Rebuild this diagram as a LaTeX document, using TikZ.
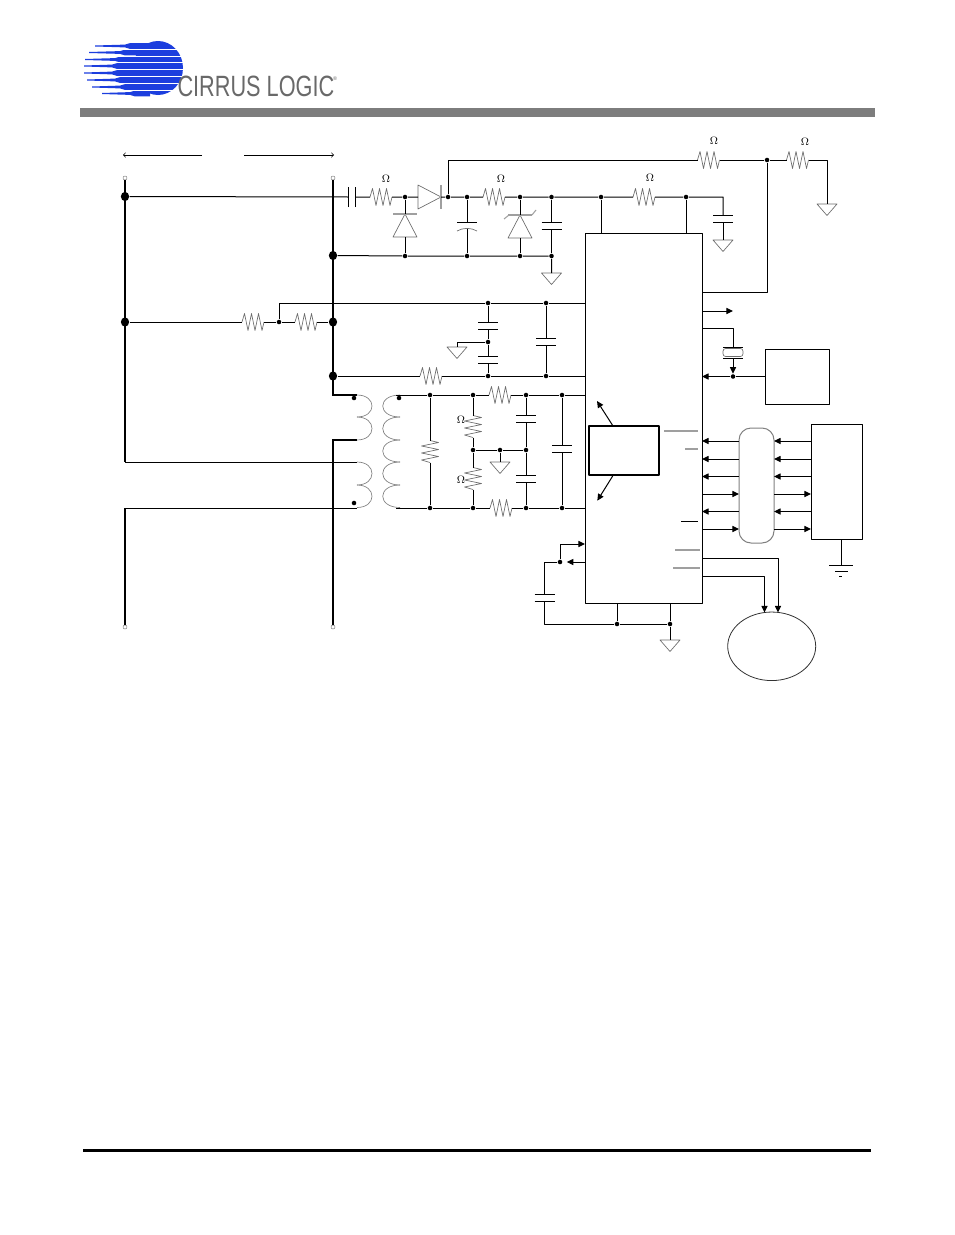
\documentclass[tikz,border=0pt]{standalone}
\usepackage{fontspec}
\newfontfamily\logofont{Liberation Sans}
\usetikzlibrary{arrows.meta,shapes.geometric}
\definecolor{logoblue}{RGB}{28,62,222}
\definecolor{logogray}{RGB}{105,105,105}
\begin{document}
\begin{tikzpicture}[x=0.75pt,y=-0.75pt,>={Stealth[length=5pt,width=4.6pt,inset=0pt]}, font=\footnotesize, line join=round, line width=0.75pt,
	dot/.style={circle,fill,inner sep=0pt,minimum size=3.4pt},
	bigdot/.style={ellipse,fill,inner sep=0pt,minimum width=6.2pt,minimum height=7pt},
	opendot/.style={circle,draw=gray,line width=0.4pt,fill=white,inner sep=0pt,minimum size=3pt},
	box/.style={draw,inner sep=0pt,outer sep=0pt},
	bus/.style={line width=1.8pt},
	part/.style={draw=gray!85!black,line width=0.5pt},
	coil/.style={draw=gray,line width=0.5pt},
	bar/.style={draw=gray!75,line width=0.8pt},
	pics/res/.style={code={
		\draw[part] (-11,0)--(-8.5,-8.5)--(-5,8.5)--(-1.5,-8.5)--(2,8.5)--(5.5,-8.5)--(9,8.5)--(11,0);
		\coordinate (-w) at (-11,0);
		\coordinate (-e) at (11,0);
	}},
	pics/capa/.style={code={
		\draw (-10,-3.5)--(10,-3.5) (-10,3.5)--(10,3.5);
		\coordinate (-t) at (0,-3.5);
		\coordinate (-b) at (0,3.5);
	}},
	pics/pcapa/.style={code={
		\draw (-10,-3.5)--(10,-3.5);
		\draw[part] (-10,5.5) .. controls (-4,2) and (4,2) .. (10,5.5);
		\coordinate (-t) at (0,-3.5);
		\coordinate (-b) at (0,3);
	}},
	pics/gnd/.style={code={
		\draw[part] (-10,0)--(10,0)--(0,11.5)--cycle;
		\coordinate (-t) at (0,0);
	}},
	pics/diode/.style={code={
		\draw[part] (0,-11.5)--(12,11.5)--(-12,11.5)--cycle;
		\draw[bar] (-12,-11.5)--(12,-11.5);
		\coordinate (-t) at (0,-11.5);
		\coordinate (-b) at (0,11.5);
	}},
	pics/xtal/.style={code={
		\draw (-10,-5.5)--(10,-5.5) (-10,5.5)--(10,5.5);
		\draw[part,rounded corners=2pt] (-10,-4)rectangle(10,4);
		\coordinate (-t) at (0,-5.5);
		\coordinate (-b) at (0,5.5);
	}}]
	\useasboundingbox (0,0) rectangle (954,1235);
	\fill[gray!98!black] (80,108) rectangle (875,117);
	\fill (83,1149) rectangle (871,1152);
	\fill[logoblue] (158,68) ellipse [x radius=25,y radius=27];
	\foreach \ty/\tx/\tm in {46/95/125,52.5/89/120,59.5/85/115,66/84/112,73/84/112,80/87/115,87/92/120,93.5/102/130}
		\fill[logoblue] (\tx,\ty-0.5)--(\tm,\ty-1.4)--(\tm+5,\ty-2.9)--(150,\ty-2.9)--(150,\ty+2.9)--(\tm+5,\ty+2.9)--(\tm,\ty+1.4)--(\tx,\ty+0.5)--cycle;
	\foreach \ty in {49.3,56,62.8,69.5,76.5,83.5,90.2}
		\draw[white,line width=0.6pt] (100,\ty)--(186,\ty);
	\node[text=logogray,inner sep=0pt,anchor=west] (logotext) at (177,86.5) {\scalebox{0.74}[1]{\logofont\fontsize{22}{22}\selectfont CIRRUS LOGIC}};
	\node[text=logogray,inner sep=0pt] (logoreg) at (335,79) {\logofont\fontsize{4}{4}\selectfont ®};

	\node[box,minimum width=87.75pt,minimum height=277.5pt] (ic) at (643.5,418) {};
	\node[box,line width=1.5pt,minimum width=52.5pt,minimum height=36.75pt] (meter) at (624,450.5) {};
	\node[box,minimum width=48pt,minimum height=41.25pt] (osc) at (797,376.5) {};
	\node[box,draw=gray,rounded corners=9pt,minimum width=26.25pt,minimum height=86.25pt] (iso) at (756.5,485.5) {};
	\node[box,minimum width=38.25pt,minimum height=86.25pt] (mcu) at (836.5,481.5) {};
	\node[box,draw=black!80,line width=0.6pt,ellipse,minimum width=66pt,minimum height=51.4pt] (disp) at (771.7,646.3) {};

	\foreach \n/\x/\y in {bA/125/196.5,bB/333/255.5,bC/125/322,bD/333/322,bE/333/376}
		\node[bigdot] (\n) at (\x,\y) {};
	\foreach \n/\x/\y in {j1/405/197,j2/448/197,j3/467/197,j4/520/197,j5/551.5/197,j6/601/197,j7/686/197,j8/767/160,
		k1/405/256,k2/467/256,k3/520/256,k4/551.5/256,
		m1/279/322,m2/488/303,m3/546/303,m4/488/342,m5/488/376,m6/546/376,
		s1/430/395,s2/473/395,s3/526/395,s4/562/395,
		t1/473/450,t2/500/450,t3/526/450,
		u1/430/508,u2/473/508,u3/526/508,u4/562/508,
		v1/733/376.5,v2/560/562,w1/617/624,w2/670/624,
		x1/354/398,x2/354/503,x3/399/398}
		\node[dot] (\n) at (\x,\y) {};
	\foreach \n/\x/\y in {lt/125/178,rt/333/178,lb/125/627,rb/333/627}
		\node[opendot] (\n) at (\x,\y) {};
	\foreach \n/\x/\y in {oA/714/141,oB/805/142,oC/650/178,oD/501/179,oE/386/179,oF/461/420,oG/461/480}
		\node[inner sep=0pt] (\n) at (\x,\y) {$\Omega$};

	\pic (r1) at (381,197) {res};
	\pic (r2) at (494,197) {res};
	\pic (r3) at (644,197) {res};
	\pic (r4) at (708.5,160) {res};
	\pic (r5) at (797.5,160) {res};
	\pic (r6) at (253,322) {res};
	\pic (r7) at (306,322) {res};
	\pic (r8) at (431,376) {res};
	\pic (r9) at (500,395) {res};
	\pic (r10) at (501,508) {res};
	\pic[rotate=90] (r11) at (430,451.5) {res};
	\pic[rotate=90] (r12) at (473,426.5) {res};
	\pic[rotate=90] (r13) at (473,478.5) {res};

	\pic[rotate=90] (c1) at (352,197) {capa};
	\pic (c2) at (467,225.5) {pcapa};
	\pic (c3) at (551.5,225.5) {capa};
	\pic (c4) at (723,218.5) {capa};
	\pic (c5) at (488,325.5) {capa};
	\pic (c6) at (488,360) {capa};
	\pic (c7) at (546,341.5) {capa};
	\pic (c8) at (526,418.5) {capa};
	\pic (c9) at (526,478.5) {capa};
	\pic (c10) at (562,448.5) {capa};
	\pic (c11) at (544.5,598) {capa};

	\pic (g1) at (827,204) {gnd};
	\pic (g2) at (551.5,273) {gnd};
	\pic (g3) at (723,240) {gnd};
	\pic (g4) at (457,347) {gnd};
	\pic (g5) at (500,462) {gnd};
	\pic (g6) at (670,640) {gnd};

	\pic[rotate=-90] (d0) at (429.5,197) {diode};
	\pic (d1) at (405,225.5) {diode};
	\pic (d2) at (520,226.5) {diode};
	\draw[bar] (504,219)--(509,215) (532,215)--(536,210);
	\pic (xt) at (733,352.5) {xtal};

	\draw[bus] (lt)--(125,462);
	\draw[bus] (125,508)--(lb);
	\draw[bus] (rt)--(333,395);
	\draw[bus] (333,440)--(rb);
	\draw (125,462)--(357,462);
	\draw (125,508)--(357,508);
	\draw[line width=1.1pt] (332.3,395)--(357,395);
	\draw[line width=1.1pt] (332.3,440)--(357,440);
	\foreach \ya/\yb in {395/417,417/440,462/485,485/507.5}
		\draw[coil] (357,\ya) .. controls (377,\ya) and (377,\yb) .. (357,\yb);
	\foreach \ya/\yb in {395/417,417/440,440/462,462/485,485/507.5}
		\draw[coil] (400,\ya) .. controls (377,\ya) and (377,\yb) .. (400,\yb);

	\draw (bA)--(c1-t) (c1-b)--(r1-w) (r1-e)--(j1)--(d0-b) (d0-t)--(j2)--(j3)--(r2-w) (r2-e)--(j4)--(j5)--(j6)--(r3-w) (r3-e)--(j7)-|(c4-t);
	\draw (j2)|-(r4-w) (r4-e)--(j8)--(r5-w) (r5-e)-|(g1-t);
	\draw (j8)|-(ic.east |- 0,292);
	\draw (j1)--(d1-t) (d1-b)--(k1) (j3)--(c2-t) (c2-b)--(k2) (j4)--(d2-t) (d2-b)--(k3) (j5)--(c3-t) (c3-b)--(k4);
	\draw (bB)--(k1)--(k2)--(k3)--(k4)--(g2-t);
	\draw (j6)--(j6 |- ic.north) (j7)--(j7 |- ic.north) (c4-b)--(g3-t);

	\draw (bC)--(r6-w) (r6-e)--(m1)--(r7-w) (r7-e)--(bD);
	\draw (m1)|-(m2)--(m3)--(ic.west |- m3);
	\draw (m2)--(c5-t) (c5-b)--(m4)--(c6-t) (c6-b)--(m5) (m3)--(c7-t) (c7-b)--(m6);
	\draw (m4)-|(g4-t);
	\draw (bE)--(r8-w) (r8-e)--(m5)--(m6)--(ic.west |- m6);

	\draw (396,395)--(s1)--(s2)--(r9-w) (r9-e)--(s3)--(s4)--(ic.west |- s4);
	\draw (396,508)--(u1)--(u2)--(r10-w) (r10-e)--(u3)--(u4)--(ic.west |- u4);
	\draw (s1)--(r11-e) (r11-w)--(u1) (s2)--(r12-e) (r12-w)--(t1)--(r13-e) (r13-w)--(u2);
	\draw (t1)--(t2)--(t3) (t2)--(g5-t);
	\draw (s3)--(c8-t) (c8-b)--(t3)--(c9-t) (c9-b)--(u3) (s4)--(c10-t) (c10-b)--(u4);

	\draw[->] (v2)|-(ic.west |- 0,544);
	\draw[->,shorten >=3pt] (ic.west |- v2)--(v2);
	\draw (v2)-|(c11-t) (c11-b)|-(w1)--(w2)--(g6-t);
	\draw (w1)--(w1 |- ic.south) (w2)--(w2 |- ic.south);

	\draw[line width=1.9pt] (meter.south west)--(meter.south east);
	\coordinate (mu) at (597,401);
	\coordinate (md) at (597.3,500.7);
	\draw[->] (612.7,425.5)--(mu);
	\draw[->] (612.7,476)--(md);
	\foreach \xa/\xb/\yc in {664/698/431,685/698/449,675/700/550,673/700/568}
		\draw[bar] (\xa,\yc)--(\xb,\yc);
	\draw (681,521)--(698,521);

	\coordinate (oa) at (733,311);
	\draw[->] (ic.east |- oa)--(oa);
	\draw (ic.east |- 0,328)-|(xt-t);
	\draw[->] (xt-b)--(v1);
	\draw[->] (osc.west)--(v1)--(ic.east |- v1);
	\foreach \yr/\dr in {441/<-,459/<-,476.5/<-,494/->,511.5/<-,529/->}{
		\draw[\dr] (ic.east |- 0,\yr)--(iso.west |- 0,\yr);
		\draw[\dr] (iso.east |- 0,\yr)--(mcu.west |- 0,\yr);
	}
	\coordinate (ea) at (841.3,565.5);
	\draw (mcu.south -| ea)--(ea);
	\draw (829,565.5)--(853,565.5) (835,571)--(848,571) (839,576)--(842,576);
	\coordinate (da) at (778,612.5);
	\coordinate (db) at (764.5,612.5);
	\draw[->] (ic.east |- 0,558)-|(da);
	\draw[->] (ic.east |- 0,576)-|(db);

	\coordinate (la) at (123,155);
	\coordinate (lc) at (334,155);
	\draw[->,>=to,line width=0.5pt] (202,155)--(la);
	\draw[->,>=to,line width=0.5pt] (244,155)--(lc);
\end{tikzpicture}
\end{document}
